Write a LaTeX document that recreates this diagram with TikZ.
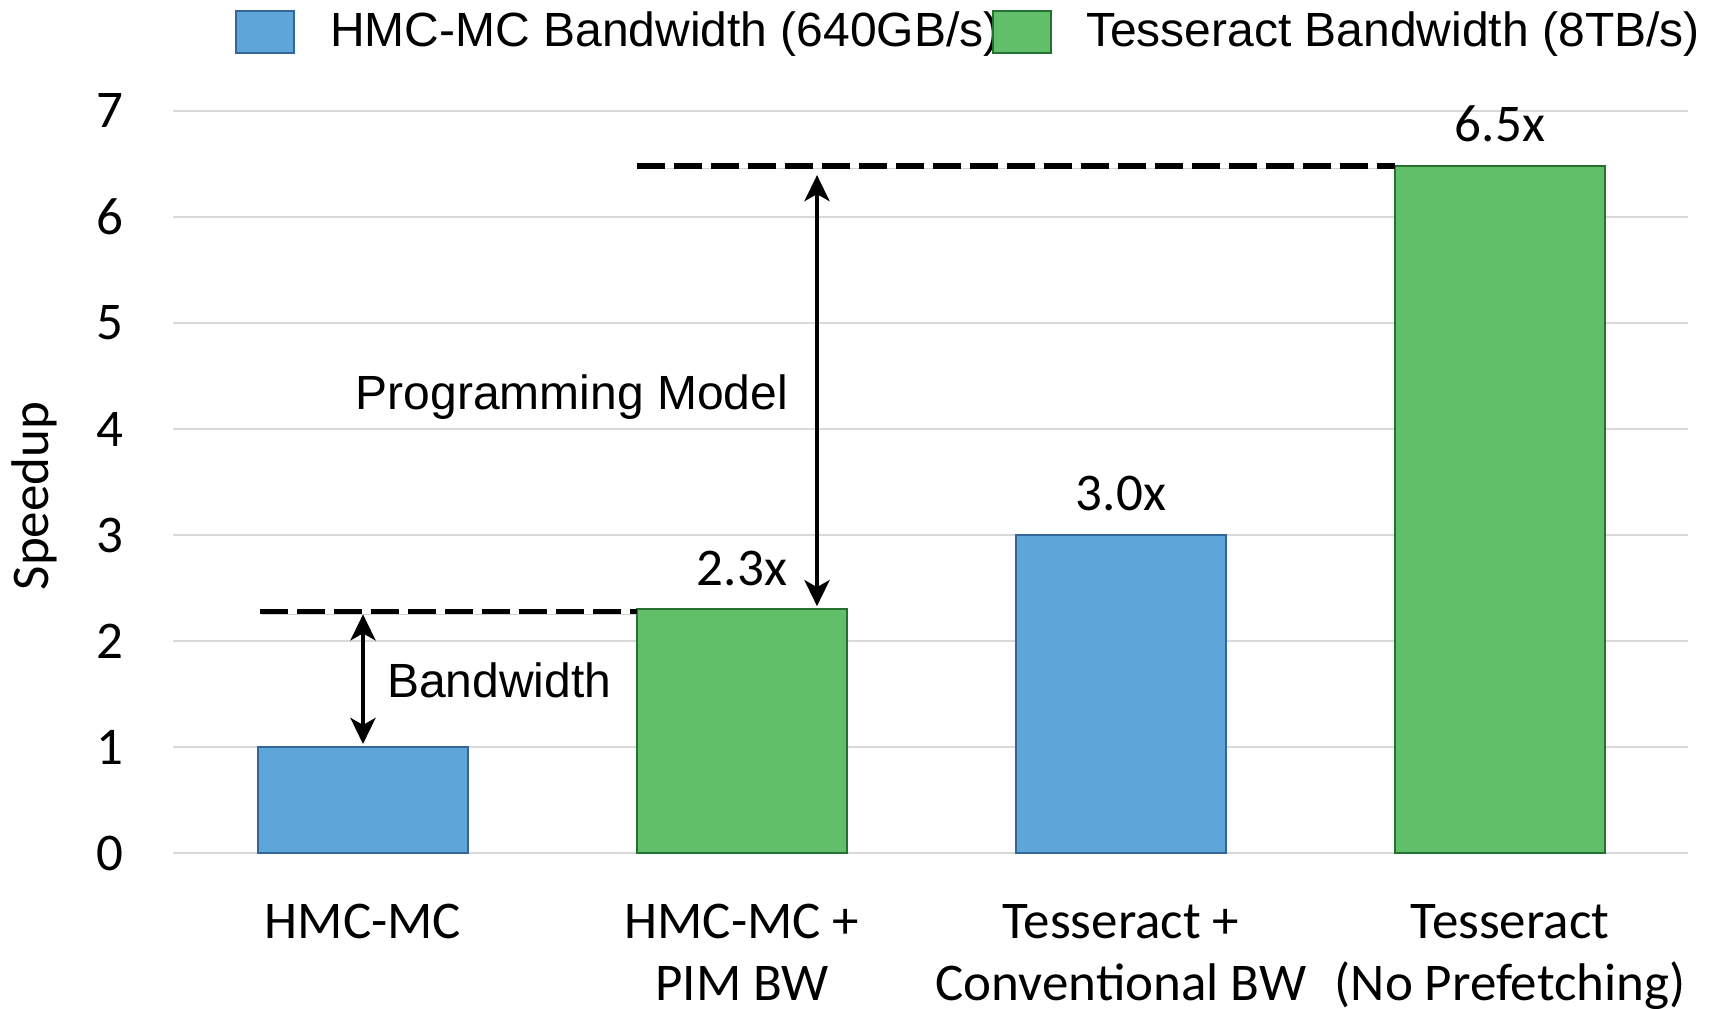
\documentclass[tikz,border=0pt]{standalone}
\usepackage{fontspec}
\setmainfont{Liberation Sans}
\newfontfamily\calfont{Carlito}
\usetikzlibrary{arrows.meta}

\definecolor{hmcblue}{RGB}{94,165,218}
\definecolor{hmcedge}{RGB}{50,102,150}
\definecolor{tessgreen}{RGB}{97,191,106}
\definecolor{tessedge}{RGB}{38,112,48}
\definecolor{gridgray}{RGB}{217,217,217}

\begin{document}
\begin{tikzpicture}[x=1pt,y=1pt,
  bar/.style={draw, line width=1.5pt, minimum width=210pt, inner sep=0pt, outer sep=0pt, anchor=south},
  hmcbar/.style={bar, fill=hmcblue, draw=hmcedge},
  tessbar/.style={bar, fill=tessgreen, draw=tessedge},
  keybox/.style={line width=2pt, minimum width=58pt, minimum height=42pt, inner sep=0pt},
  calib/.style={font=\calfont\fontsize{53}{62}\selectfont, inner sep=0pt},
  arial/.style={font=\fontsize{48}{56}\selectfont, inner sep=0pt},
  gridline/.style={draw=gridgray, line width=1.8pt},
  soft/.style={preaction={draw=black!40, opacity=.45, transform canvas={xshift=1.5pt,yshift=-2.5pt}}},
  level/.style={soft, line width=5.5pt, dash pattern=on 28pt off 9pt},
  gap/.style={line width=4.5pt, {Stealth[length=26pt,width=25pt,inset=7pt]}-{Stealth[length=26pt,width=25pt,inset=7pt]}},
]
\useasboundingbox (0,0) rectangle (1719,1009);
\fill[white] (0,0) rectangle (1719,1009);

% value axis: 0 at 156pt, one unit = 106pt
\begin{scope}[yshift=156pt, y=106pt]
  \foreach \k in {0,...,7} {
    \draw[gridline] (173,\k) -- (1688,\k);
    \node[calib] (t\k) at (110,\k) {\k};
  }
  \node[hmcbar,  minimum height=106pt]   (b1) at (363,0) {};
  \node[tessbar, minimum height=243.8pt] (b2) at (742,0) {};
  \node[hmcbar,  minimum height=318pt]   (b3) at (1121,0) {};
  \node[tessbar, minimum height=687pt]   (b4) at (1500,0) {};

  \coordinate (lv1) at (260,2.28);
  \coordinate (lv2) at (637,6.48);
  \coordinate (pm)  at (817,6.48);
\end{scope}

% reference levels
\draw[level] (lv1) -- (lv1 -| b2.west);
\draw[level] (lv2) -- (lv2 -| b4.west);

% gains
\draw[gap, shorten <=3pt, shorten >=3pt] (b1.north) -- (b1.north |- lv1);
\draw[gap, shorten <=3pt, shorten >=9pt] (pm |- b2.north) -- (pm);

\node[arial, anchor=base west] (bwl) at (387,311) {Bandwidth};
\node[arial, anchor=base] (pml) at (572,599) {Programming Model};

% value labels
\node[calib, anchor=base] (v2) at ([yshift=24pt]b2.north) {2.3x};
\node[calib, anchor=base] (v3) at ([yshift=24pt]b3.north) {3.0x};
\node[calib, anchor=base] (v4) at ([yshift=24pt]b4.north) {6.5x};

% categories
\node[calib, anchor=north, align=center] (c1) at (b1.south |- 0,105) {HMC-MC};
\node[calib, anchor=north, align=center] (c2) at (b2.south |- 0,105) {HMC-MC +\\PIM BW};
\node[calib, anchor=north, align=center] (c3) at (b3.south |- 0,105) {Tesseract +\\Conventional BW};
\node[calib, anchor=north, align=center] (c4) at (1510,105) {Tesseract\\(No Prefetching)};

\node[calib, rotate=90] (ylab) at (34,513) {Speedup};

% legend
\node[keybox, fill=hmcblue, draw=hmcedge] (k1) at (265,976.5) {};
\node[arial, anchor=base west] (k1t) at (330,962) {HMC-MC Bandwidth (640GB/s)};
\node[keybox, fill=tessgreen, draw=tessedge] (k2) at (1021.5,976.5) {};
\node[arial, anchor=base west] (k2t) at (1086,962) {Tesseract Bandwidth (8TB/s)};
\end{tikzpicture}
\end{document}
